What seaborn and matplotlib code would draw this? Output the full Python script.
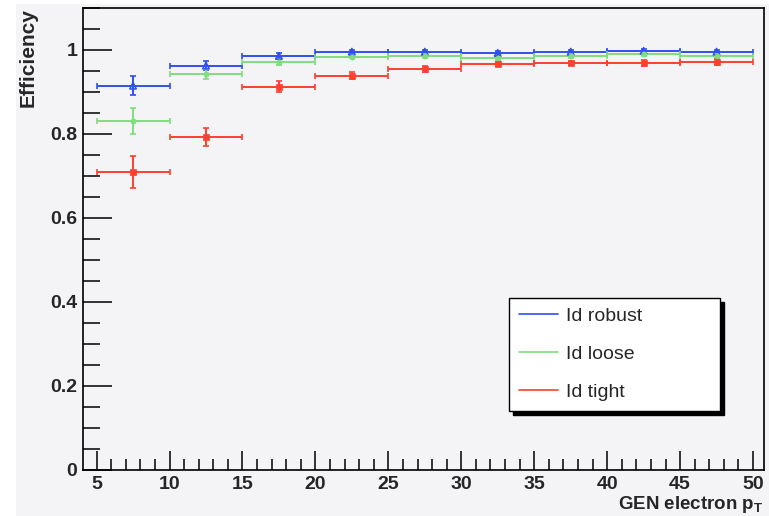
import numpy as np
import pandas as pd
import matplotlib
matplotlib.use("Agg")
import matplotlib.pyplot as plt
from matplotlib.lines import Line2D
from matplotlib.patches import Rectangle
from matplotlib.ticker import MultipleLocator
import seaborn as sns

# pT bins (GeV)
pt_low = [5, 10, 15, 20, 25, 30, 35, 40, 45]
pt_high = [10, 15, 20, 25, 30, 35, 40, 45, 50]

# efficiencies
eff_robust = [0.915, 0.963, 0.986, 0.996, 0.996, 0.993, 0.996, 0.998, 0.996]
err_robust = [0.023, 0.010, 0.006, 0.004, 0.004, 0.004, 0.004, 0.004, 0.004]
eff_loose = [0.831, 0.943, 0.972, 0.984, 0.986, 0.980, 0.986, 0.990, 0.986]
err_loose = [0.031, 0.012, 0.007, 0.004, 0.004, 0.004, 0.004, 0.004, 0.004]
eff_tight = [0.710, 0.793, 0.913, 0.939, 0.955, 0.967, 0.969, 0.969, 0.972]
err_tight = [0.038, 0.022, 0.012, 0.008, 0.007, 0.005, 0.005, 0.006, 0.007]

labels = ["Id robust", "Id loose", "Id tight"]
colors = ["#2f4ff0", "#80dd80", "#ff4030"]

lo = np.array(pt_low, dtype=float)
hi = np.array(pt_high, dtype=float)
centers = (lo + hi) / 2
halfw = (hi - lo) / 2

rows = []
for lab, eff, err in zip(labels, [eff_robust, eff_loose, eff_tight],
                         [err_robust, err_loose, err_tight]):
    for c, h, e, s in zip(centers, halfw, eff, err):
        rows.append({"pt": c, "halfw": h, "eff": e, "err": s, "id": lab})
df = pd.DataFrame(rows)

sns.set_style("ticks")
bg = "#f4f3f6"
plt.rcParams["font.family"] = ["Liberation Sans", "DejaVu Sans"]
plt.rcParams["mathtext.fontset"] = "custom"
plt.rcParams["mathtext.bf"] = "Liberation Sans:bold"

fig = plt.figure(figsize=(7.69, 5.16), dpi=100, facecolor="white")
fig.patches.append(Rectangle((16 / 769, 0), 1, 1 - 4 / 516, transform=fig.transFigure,
                             facecolor=bg, edgecolor="none", zorder=-10))
ax = fig.add_axes([83 / 769, 46 / 516, 681 / 769, 462 / 516])
ax.set_facecolor(bg)

markers = {"Id robust": "^", "Id loose": "o", "Id tight": "s"}
msize = {"Id robust": 22, "Id loose": 14, "Id tight": 22}
for lab, col in zip(labels, colors):
    sub = df[df["id"] == lab]
    ax.errorbar(sub["pt"], sub["eff"], xerr=sub["halfw"], yerr=sub["err"], fmt="none",
                ecolor=col, elinewidth=1.4, capsize=2.5, capthick=1.2, zorder=2)
    if lab == "Id robust":
        sns.scatterplot(data=sub, x="pt", y="eff", marker=markers[lab], s=msize[lab],
                        facecolor="none", edgecolor=col, linewidth=1.1, ax=ax, zorder=3)
    else:
        sns.scatterplot(data=sub, x="pt", y="eff", marker=markers[lab], s=msize[lab],
                        color=col, edgecolor=col, linewidth=0.5, ax=ax, zorder=3)

ax.set_xlim(4.07, 50.75)
ax.set_ylim(0, 1.1)
ax.xaxis.set_major_locator(MultipleLocator(5))
ax.xaxis.set_minor_locator(MultipleLocator(1))
ax.yaxis.set_major_locator(MultipleLocator(0.2))
ax.yaxis.set_minor_locator(MultipleLocator(0.05))
ax.yaxis.set_major_formatter(plt.FuncFormatter(lambda v, p: f"{v:g}"))
ax.tick_params(which="both", direction="in", top=False, right=False, color="black")
ax.tick_params(axis="y", which="major", length=21, width=1.1, pad=4)
ax.tick_params(axis="y", which="minor", length=12, width=1.1)
ax.tick_params(axis="x", which="major", length=14, width=1.1, pad=4)
ax.tick_params(axis="x", which="minor", length=8, width=1.1)
for t in ax.get_xticklabels() + ax.get_yticklabels():
    t.set_family(["Liberation Sans Narrow", "Liberation Sans"])
    t.set_fontweight("bold")
    t.set_fontsize(14)
for sp in ax.spines.values():
    sp.set_color("black")
    sp.set_linewidth(1.2)

ax.set_ylabel("Efficiency", fontsize=15, fontweight="bold", loc="top")
ax.yaxis.set_label_coords(-0.066, 1.0)
ax.set_xlabel(r"GEN electron p$_\mathbf{T}$", fontsize=13.5, fontweight="bold", loc="right")
ax.xaxis.set_label_coords(1.0, -0.053)

handles = [Line2D([], [], color=c, lw=1.2) for c in colors]
leg = ax.legend(handles, labels, loc="lower left",
                bbox_to_anchor=(0.6256, 0.1277, 0.3094, 0.2468), mode="expand",
                borderaxespad=0, fontsize=14, handlelength=2.0, handletextpad=0.45,
                labelspacing=1.05, borderpad=0.5, fancybox=False, frameon=True,
                shadow={"ox": 3, "oy": -3, "color": "black", "alpha": 1})
leg.get_frame().set_edgecolor("black")
leg.get_frame().set_linewidth(1.0)
leg.get_frame().set_facecolor("white")
leg.get_frame().set_alpha(1)

fig.savefig("out.png", dpi=100, facecolor=fig.get_facecolor())
